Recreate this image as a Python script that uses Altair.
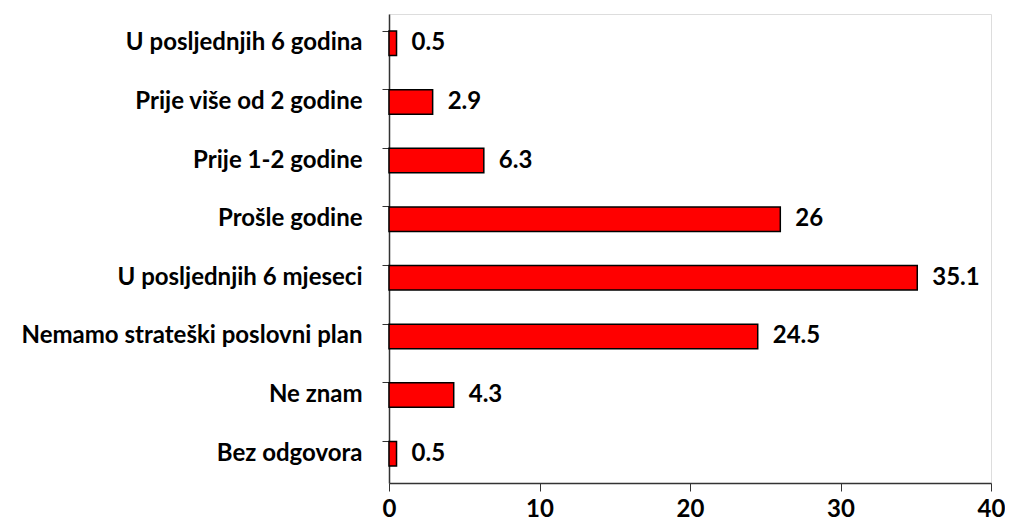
import altair as alt
import pandas as pd

categories = [
    "U posljednjih 6 godina",
    "Prije više od 2 godine",
    "Prije 1-2 godine",
    "Prošle godine",
    "U posljednjih 6 mjeseci",
    "Nemamo strateški poslovni plan",
    "Ne znam",
    "Bez odgovora",
]
values = [0.5, 2.9, 6.3, 26, 35.1, 24.5, 4.3, 0.5]
labels = ["0.5", "2.9", "6.3", "26", "35.1", "24.5", "4.3", "0.5"]

df = pd.DataFrame({"cat": categories, "val": values, "lab": labels})

FONT = "Lato"
FS = 24

y_enc = alt.Y(
    "cat:N",
    sort=categories,
    title=None,
    scale=alt.Scale(paddingInner=0.58, paddingOuter=0.29),
    axis=alt.Axis(
        labelFont=FONT, labelFontSize=FS, labelFontWeight="bold", labelColor="black",
        tickSize=7, tickColor="#333", domainColor="#333", domainWidth=1.5,
        labelPadding=20, bandPosition=0, grid=False, labelLimit=400,
    ),
)
x_enc = alt.X(
    "val:Q",
    title=None,
    scale=alt.Scale(domain=[0, 40]),
    axis=alt.Axis(
        values=[0, 10, 20, 30, 40], labelFont=FONT, labelFontSize=FS, labelFontWeight="bold",
        labelColor="black", tickSize=8, tickColor="#333", domainColor="#333", domainWidth=1.5,
        labelPadding=6, grid=False, labelFlush=False,
    ),
)

bars = alt.Chart(df).mark_bar(color="#FF0000", stroke="black", strokeWidth=1.5).encode(
    x=x_enc, y=y_enc
)
text = alt.Chart(df).mark_text(
    align="left", baseline="middle", dx=15, font=FONT, fontSize=FS, fontWeight="bold", color="black"
).encode(x="val:Q", y=alt.Y("cat:N", sort=categories), text="lab:N")

chart = (
    (bars + text)
    .properties(
        width=602, height=469,
        autosize=alt.AutoSizeParams(type="none"),
        padding={"left": 381, "top": 6, "right": 14, "bottom": 38},
    )
    .configure_view(stroke="#888", strokeWidth=1.5)
    .configure(background="white")
)
chart.save("out.html", embed_options={"renderer": "svg", "actions": False})
